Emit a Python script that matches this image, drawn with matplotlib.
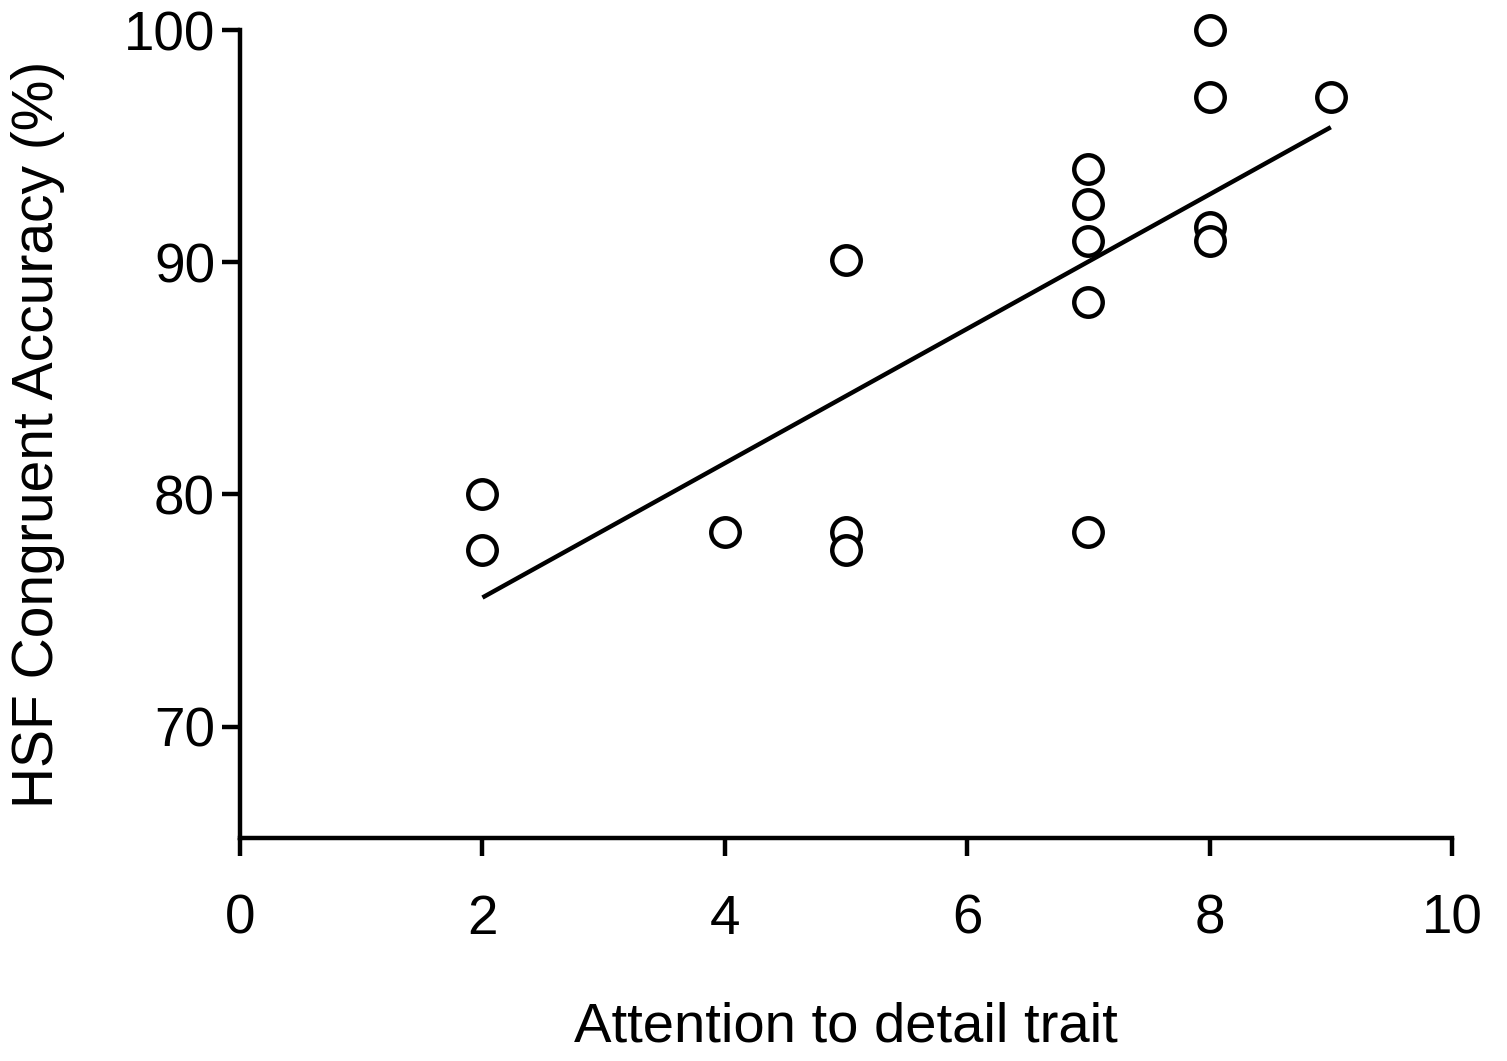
import numpy as np
import matplotlib
matplotlib.use("Agg")
import matplotlib.pyplot as plt

plt.rcParams['font.family'] = ['Liberation Sans', 'DejaVu Sans']

# Attention to detail score vs HSF congruent accuracy (%)
atencao = [2, 2, 4, 5, 5, 5, 7, 7, 7, 7, 7, 8, 8, 8, 8, 9]
acuracia = [80.0, 77.6, 78.4, 90.1, 78.4, 77.6, 94.0, 92.5, 90.9, 88.3, 78.4,
            100.0, 97.1, 91.5, 90.9, 97.1]

x_ticks = [0, 2, 4, 6, 8, 10]
y_ticks = [70, 80, 90, 100]

x = np.array(atencao)
y = np.array(acuracia)

# regressao linear
inclinacao, intercepto = np.polyfit(x, y, 1)
x_linha = np.array([x.min(), x.max()])
y_linha = inclinacao * x_linha + intercepto

fig = plt.figure(figsize=(15.07, 10.61), dpi=100)
ax = fig.add_axes([0.1593, 0.2102, 0.8042, 0.7615])

lw = 3.2
ax.plot(x_linha, y_linha, color='black', linewidth=lw, solid_capstyle='butt')
ax.plot(x, y, linestyle='none', marker='o', markersize=20.5,
        markerfacecolor='white', markeredgecolor='black', markeredgewidth=lw,
        clip_on=False, zorder=3)

ax.set_xlim(0, 10)
ax.set_ylim(65.2, 100)
ax.set_xticks(x_ticks)
ax.set_yticks(y_ticks)

for s in ['top', 'right']:
    ax.spines[s].set_visible(False)
for s in ['left', 'bottom']:
    ax.spines[s].set_linewidth(lw)
    ax.spines[s].set_capstyle('projecting')

ax.tick_params(axis='both', direction='out', length=13, width=lw,
               labelsize=39.5, colors='black')
ax.tick_params(axis='x', pad=27)
ax.tick_params(axis='y', pad=5)

ax.set_xlabel('Attention to detail trait', fontsize=40.5, labelpad=40)
ax.set_ylabel('HSF Congruent Accuracy (%)', fontsize=41, labelpad=42)

fig.savefig('out.png', dpi=100)
